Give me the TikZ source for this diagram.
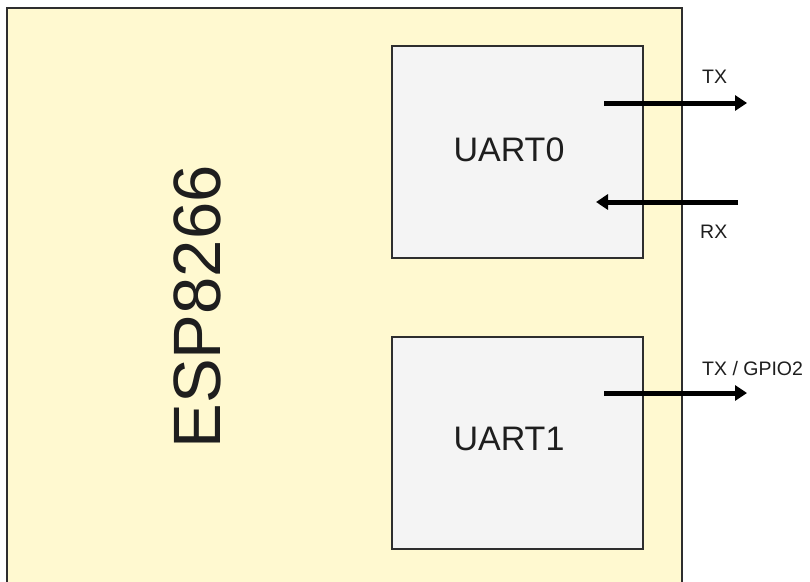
\documentclass[tikz,border=0pt]{standalone}
\usepackage{fontspec}
\setmainfont{Liberation Sans}
\usetikzlibrary{arrows.meta}
\definecolor{chipyellow}{HTML}{FFF9D0}
\definecolor{uartgray}{HTML}{F4F4F4}
\definecolor{edge}{HTML}{2E2E2E}
\definecolor{txt}{HTML}{1E1E1E}
\tikzset{
  chip/.style={draw=edge, line width=2pt, fill=chipyellow},
  uart/.style={draw=edge, line width=2pt, fill=uartgray, minimum width=251pt, minimum height=212pt, inner sep=0pt, outer sep=0pt},
  sig/.style={line width=5pt, draw=black, -{Triangle[length=12pt,width=15pt]}},
  siglabel/.style={font=\fontsize{19.5}{19.5}\selectfont, text=txt, anchor=base west, inner sep=0pt},
}
\begin{document}
\begin{tikzpicture}[x=1pt,y=-1pt]
\useasboundingbox (0,0) rectangle (810,581);
\fill[white] (0,0) rectangle (810,581);
\draw[chip] (7,8) rectangle (682,600);
\node[rotate=90, font=\fontsize{67}{67}\selectfont, text=txt, inner sep=0pt] (esp) at (197,307) {ESP8266};
\node[uart] (u0) at (517.5,152) {};
\node[uart] (u1) at (517.5,442.5) {};
\node[font=\fontsize{34}{34}\selectfont, text=txt, inner sep=0pt] (u0t) at (509,150) {UART0};
\node[font=\fontsize{34}{34}\selectfont, text=txt, inner sep=0pt] (u1t) at (509,439) {UART1};
\coordinate (tx0a) at (604,103);
\coordinate (tx0b) at (747,103);
\coordinate (rx0a) at (738,202);
\coordinate (rx0b) at (596,202);
\coordinate (tx1a) at (604,393);
\coordinate (tx1b) at (747,393);
\draw[sig] (tx0a) -- (tx0b);
\draw[sig] (rx0a) -- (rx0b);
\draw[sig] (tx1a) -- (tx1b);
\node[siglabel] (txl) at (702,83) {TX};
\node[siglabel] (rxl) at (700,238) {RX};
\node[siglabel] (gpl) at (702,375) {TX / GPIO2};
\end{tikzpicture}
\end{document}
